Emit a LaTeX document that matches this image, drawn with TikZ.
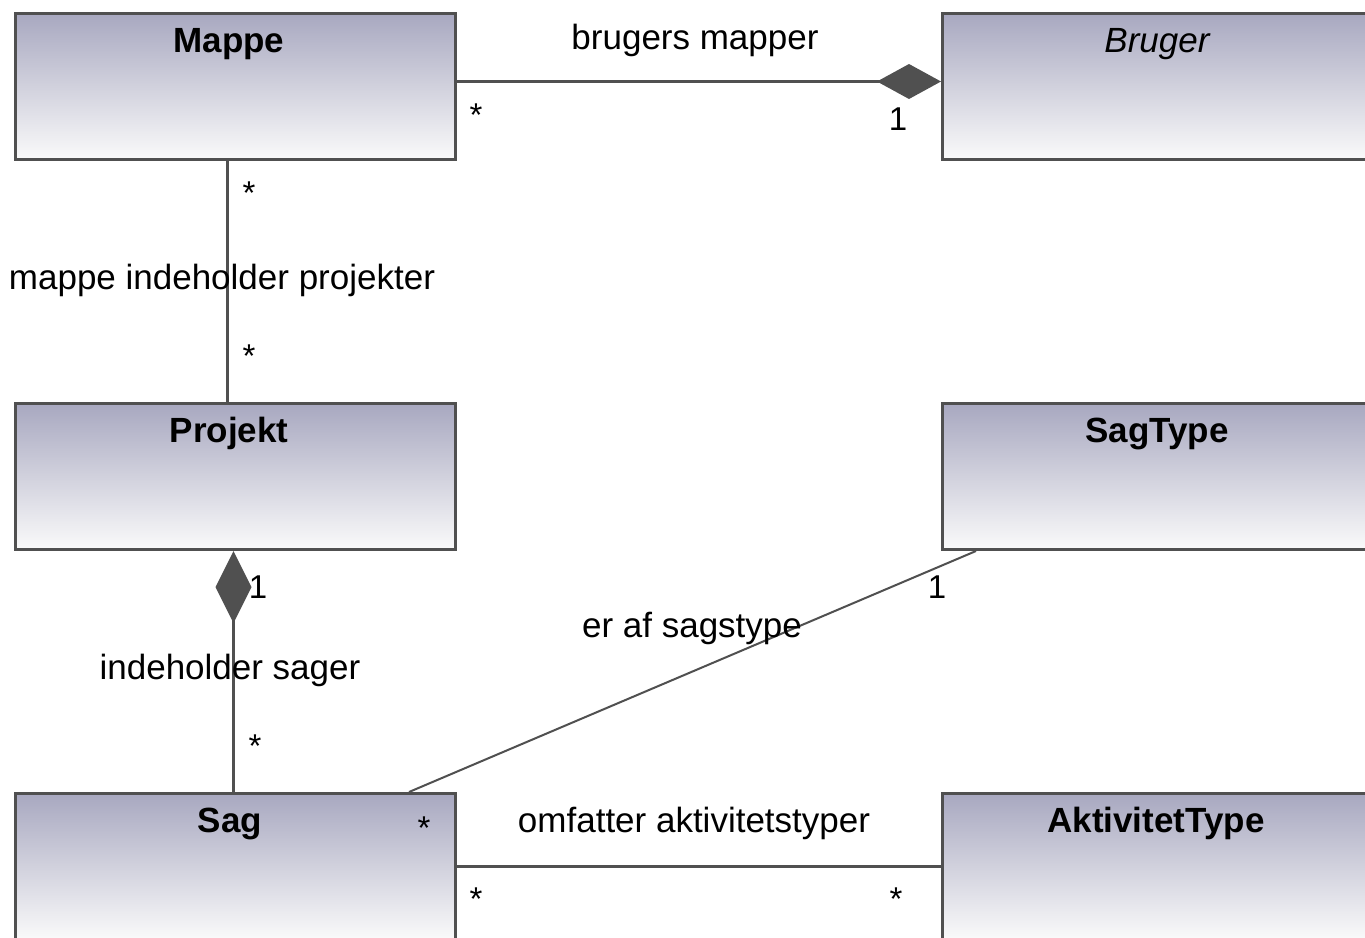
\documentclass[tikz,border=0pt]{standalone}
\usepackage{fontspec}
\setmainfont{Liberation Sans}
\usetikzlibrary{arrows.meta}
\definecolor{edgec}{RGB}{80,80,80}
\definecolor{topc}{RGB}{168,168,192}
\definecolor{botc}{RGB}{250,250,250}
\tikzset{
  cls/.style={draw=edgec, line width=3pt, top color=topc, bottom color=botc,
    minimum width=440pt, minimum height=146pt, inner sep=0pt, anchor=north west},
  ttl/.style={font=\fontsize{35}{40}\selectfont\bfseries, anchor=base, inner sep=0pt},
  ttli/.style={font=\fontsize{35}{40}\selectfont\itshape, anchor=base, inner sep=0pt},
  lbl/.style={font=\fontsize{35}{40}\selectfont, anchor=base, inner sep=0pt},
  mult/.style={font=\fontsize{33}{40}\selectfont, anchor=base, inner sep=0pt},
  conn/.style={draw=edgec, line width=3pt},
  thinconn/.style={draw=edgec, line width=2pt},
}
\begin{document}
\begin{tikzpicture}[x=1pt,y=-1pt]
\useasboundingbox (0,0) rectangle (1365,937);
\fill[white] (0,0) rectangle (1365,937);
\clip (0,0) rectangle (1365,937);
% classes
\node[cls] (mappe) at (14,12) {};
\node[cls] (bruger) at (941,12) {};
\node[cls] (projekt) at (14,402) {};
\node[cls] (sagtype) at (941,402) {};
\node[cls] (sag) at (14,792) {};
\node[cls] (akt) at (941,792) {};
% titles
\node[ttl] (mappeT) at (229,52) {Mappe};
\node[ttli] (brugerT) at (1157,52) {Bruger};
\node[ttl] (projektT) at (229,442) {Projekt};
\node[ttl] (sagtypeT) at (1157,442) {SagType};
\node[ttl] (sagT) at (230,832) {Sag};
\node[ttl] (aktT) at (1156,832) {AktivitetType};
% connectors
\draw[conn, -{Diamond[length=64pt,width=35pt]}] ([yshift=5pt]mappe.east) -- ([yshift=5pt]bruger.west);
\draw[conn] ([xshift=-8pt]mappe.south) -- ([xshift=-8pt]projekt.north);
\draw[conn, {Diamond[length=72pt,width=36pt]}-] ([xshift=-2pt]projekt.south) -- ([xshift=-2pt]sag.north);
\draw[thinconn] ([xshift=35pt]sagtype.south west) -- ([xshift=-48pt]sag.north east);
\draw[conn] (sag.east) -- (akt.west);
% association labels
\node[lbl] (l1) at (695,49) {brugers mapper};
\node[lbl] (l2) at (222,289) {mappe indeholder projekter};
\node[lbl] (l3) at (230,679) {indeholder sager};
\node[lbl] (l4) at (692,637) {er af sagstype};
\node[lbl] (l5) at (694,832) {omfatter aktivitetstyper};
% multiplicities
\node[mult] (m1) at (898,130) {1};
\node[mult] (m2) at (258,598) {1};
\node[mult] (m3) at (937,598) {1};
\node[mult] (s1) at (476,126) {*};
\node[mult] (s2) at (249,204) {*};
\node[mult] (s3) at (249,367) {*};
\node[mult] (s4) at (255,757) {*};
\node[mult] (s5) at (424,839) {*};
\node[mult] (s6) at (476,910) {*};
\node[mult] (s7) at (896,910) {*};
\end{tikzpicture}
\end{document}
